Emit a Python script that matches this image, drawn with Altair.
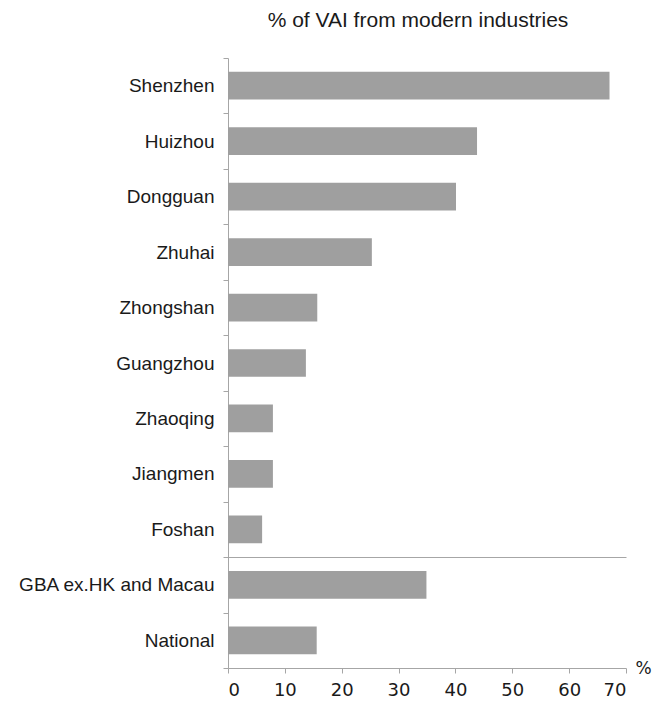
import altair as alt
import pandas as pd

categories = ["Shenzhen", "Huizhou", "Dongguan", "Zhuhai", "Zhongshan", "Guangzhou",
              "Zhaoqing", "Jiangmen", "Foshan", "GBA ex.HK and Macau", "National"]
values = [67.1, 43.8, 40.1, 25.3, 15.7, 13.7, 7.9, 7.9, 6.0, 34.9, 15.6]
x_ticks = [0, 10, 20, 30, 40, 50, 60, 70]
# separator line is drawn below this category
separator_after = "Foshan"

df = pd.DataFrame({"city": categories, "value": values})

W, H = 398, 610
LABEL_FONT = "Liberation Sans"
NUM_FONT = "DejaVu Sans"
AXIS_COLOR = "#a6a6a6"
TEXT_COLOR = "#1a1a1a"

yscale = alt.Scale(domain=categories, paddingInner=0, paddingOuter=0)
xscale = alt.Scale(domain=[0, 70], nice=False)

chart = alt.Chart(df).mark_bar(color="#9f9f9f", height=alt.RelativeBandSize(0.5)).encode(
    y=alt.Y("city:N", scale=yscale, sort=categories,
            axis=alt.Axis(title=None, tickBand="extent", labelFontSize=19,
                          labelFont=LABEL_FONT, labelColor=TEXT_COLOR,
                          labelLimit=400,
                          labelPadding=9, tickSize=5, domainColor=AXIS_COLOR,
                          tickColor=AXIS_COLOR, grid=True,
                          gridColor=AXIS_COLOR,
                          gridOpacity=alt.condition(
                              f"datum.value == '{separator_after}'",
                              alt.value(1), alt.value(0)))),
    x=alt.X("value:Q", scale=xscale,
            axis=alt.Axis(values=x_ticks, title="%", titleFontSize=17,
                          titleFont=NUM_FONT, titleFontWeight="normal",
                          titleColor=TEXT_COLOR, titleX=W + 17, titleY=0,
                          titleAlign="center", titleBaseline="middle",
                          titleAngle=0,
                          labelFontSize=18, labelFont=NUM_FONT,
                          labelColor=TEXT_COLOR, labelPadding=8, tickSize=5,
                          domainColor=AXIS_COLOR, tickColor=AXIS_COLOR,
                          grid=False)),
).properties(
    width=W, height=H,
    background="white",
    title=alt.TitleParams("% of VAI from modern industries", fontSize=21,
                          font=LABEL_FONT, fontWeight="normal",
                          color=TEXT_COLOR, anchor="middle", dx=-9, offset=18),
    autosize=alt.AutoSizeParams(type="none"),
    padding={"left": 220, "top": 50, "right": 26, "bottom": 34},
).configure_view(stroke=None, strokeWidth=0)

chart.save("out.html", embed_options={"renderer": "svg", "actions": False})
